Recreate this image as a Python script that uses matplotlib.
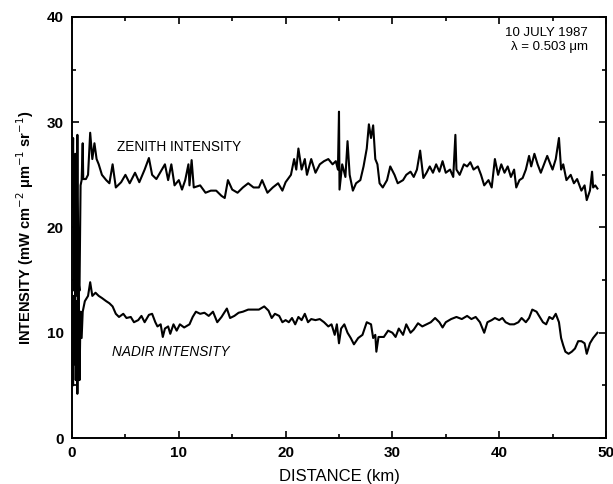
import matplotlib
matplotlib.use("Agg")
import matplotlib.pyplot as plt
from matplotlib.ticker import MultipleLocator

plt.rcParams['font.family'] = ['Liberation Sans', 'DejaVu Sans']

# Zenith intensity trace (km, mW cm-2 um-1 sr-1)
zen_km = [0.0, 0.1, 0.2, 0.3, 0.4, 0.5, 0.6, 0.7, 0.8, 0.9, 1.0, 1.05, 1.3, 1.5, 1.7,
          1.9, 2.1, 2.3, 2.5, 2.8, 3.2, 3.5, 3.8, 4.1, 4.6, 5.0, 5.4, 5.9, 6.3, 6.8,
          7.2, 7.5, 7.9, 8.3, 8.7, 9.0, 9.3, 9.6, 10.0, 10.3, 10.6, 10.9, 11.0, 11.2,
          11.4, 12.0, 12.5, 13.0, 13.5, 14.0, 14.3, 14.6, 15.0, 15.5, 16.0, 16.5, 17.0,
          17.5, 17.8, 18.3, 18.8, 19.3, 19.7, 20.0, 20.5, 20.8, 21.0, 21.2, 21.5, 21.8,
          22.0, 22.4, 22.8, 23.2, 23.6, 24.0, 24.4, 24.7, 24.9, 25.0, 25.05, 25.3, 25.6,
          25.8, 26.0, 26.3, 26.6, 27.0, 27.3, 27.6, 27.8, 28.0, 28.2, 28.4, 28.6, 28.8,
          29.1, 29.5, 29.8, 30.2, 30.5, 31.0, 31.3, 31.7, 32.0, 32.3, 32.6, 32.9, 33.2,
          33.5, 33.8, 34.1, 34.4, 34.7, 35.0, 35.4, 35.7, 35.9, 36.0, 36.3, 36.7, 37.0,
          37.3, 37.6, 38.0, 38.3, 38.6, 39.0, 39.3, 39.6, 39.9, 40.2, 40.5, 40.8, 41.1,
          41.4, 41.6, 41.9, 42.2, 42.5, 42.8, 43.0, 43.3, 43.6, 43.9, 44.2, 44.5, 44.8,
          45.0, 45.3, 45.6, 45.8, 46.0, 46.3, 46.7, 47.0, 47.3, 47.7, 48.0, 48.2, 48.5,
          48.7, 48.8, 49.0, 49.2]
zen_val = [22.0, 28.5, 14.0, 27.0, 13.5, 28.8, 15.0, 14.0, 24.0, 24.5, 28.0, 24.6, 24.6,
           25.0, 29.0, 26.5, 28.0, 26.5, 26.0, 25.0, 24.5, 24.2, 26.0, 23.8, 24.3, 25.0,
           24.2, 25.2, 24.3, 25.5, 26.6, 25.0, 24.6, 25.3, 26.0, 24.5, 26.0, 24.0, 24.5,
           23.6, 24.5, 26.0, 24.0, 26.4, 23.8, 24.0, 23.3, 23.5, 23.5, 23.0, 22.8, 24.5,
           23.6, 23.3, 23.8, 24.2, 23.8, 23.8, 24.5, 23.3, 23.8, 24.2, 23.5, 24.3, 25.0,
           26.5, 25.5, 27.5, 25.5, 26.5, 25.0, 26.5, 25.2, 26.0, 26.3, 26.5, 26.0, 26.3,
           25.5, 31.0, 23.6, 26.0, 24.8, 28.2, 25.0, 23.5, 24.2, 24.5, 25.8, 27.5, 29.8,
           28.5, 29.7, 26.5, 26.0, 24.2, 23.8, 24.5, 25.8, 25.0, 24.2, 24.5, 25.0, 25.3,
           24.8, 25.5, 27.3, 24.7, 25.2, 25.8, 25.2, 26.0, 25.3, 26.3, 25.2, 25.5, 24.8,
           28.8, 25.5, 25.0, 26.0, 25.8, 26.2, 25.5, 25.8, 25.0, 24.0, 24.5, 23.8, 26.5,
           25.0, 26.0, 25.2, 25.8, 24.8, 25.5, 23.8, 24.5, 24.7, 25.5, 26.8, 25.8, 27.0,
           26.0, 25.2, 26.0, 26.8, 26.0, 25.5, 26.5, 28.5, 25.5, 26.0, 24.5, 25.0, 24.2,
           24.6, 23.5, 24.0, 22.6, 23.5, 25.3, 23.8, 24.0, 23.7]

# Nadir intensity trace
nad_km = [0.0, 0.1, 0.15, 0.2, 0.3, 0.35, 0.45, 0.5, 0.6, 0.7, 0.8, 0.9, 1.0, 1.2, 1.5,
          1.7, 1.9, 2.2, 2.5, 2.8, 3.2, 3.5, 3.8, 4.1, 4.4, 4.8, 5.1, 5.5, 5.8, 6.2, 6.5,
          6.8, 7.2, 7.5, 7.8, 8.0, 8.3, 8.5, 8.7, 9.0, 9.2, 9.5, 9.8, 10.1, 10.5, 11.0,
          11.3, 11.6, 12.0, 12.4, 12.8, 13.2, 13.6, 14.0, 14.5, 14.8, 15.2, 15.6, 16.0,
          16.5, 17.0, 17.5, 18.0, 18.4, 18.7, 19.0, 19.4, 19.7, 20.0, 20.3, 20.6, 20.9,
          21.2, 21.5, 21.8, 22.1, 22.4, 22.8, 23.2, 23.6, 24.0, 24.3, 24.6, 24.8, 25.0,
          25.2, 25.5, 25.8, 26.1, 26.4, 26.8, 27.2, 27.6, 28.0, 28.2, 28.4, 28.5, 28.7,
          29.2, 29.6, 30.0, 30.3, 30.6, 31.0, 31.3, 31.7, 32.0, 32.4, 32.8, 33.2, 33.6,
          34.0, 34.4, 34.7, 35.0, 35.5, 36.0, 36.5, 37.0, 37.4, 37.8, 38.2, 38.6, 38.9,
          39.3, 39.6, 40.0, 40.3, 40.6, 41.0, 41.4, 41.8, 42.1, 42.5, 42.8, 43.1, 43.5,
          43.8, 44.1, 44.4, 44.7, 45.0, 45.3, 45.6, 45.8, 46.0, 46.2, 46.5, 46.8, 47.1,
          47.4, 47.7, 48.0, 48.2, 48.5, 48.8, 49.2]
nad_val = [8.0, 5.0, 13.5, 7.0, 15.0, 5.5, 13.0, 4.2, 15.5, 5.5, 12.0, 9.5, 12.0, 13.0,
           13.5, 14.8, 13.5, 13.8, 13.5, 13.3, 13.0, 12.8, 12.5, 11.8, 11.5, 11.8, 11.4,
           11.5, 11.0, 11.2, 11.6, 11.0, 11.7, 11.8, 11.0, 10.6, 10.8, 9.6, 10.4, 10.6,
           9.9, 10.8, 10.2, 10.8, 10.5, 10.8, 11.5, 12.0, 11.8, 11.9, 11.6, 12.0, 11.0,
           11.5, 12.3, 11.4, 11.6, 11.9, 12.0, 12.2, 12.2, 12.2, 12.5, 12.1, 11.4, 11.8,
           11.6, 11.0, 11.2, 11.0, 11.4, 10.8, 11.5, 11.2, 11.8, 11.0, 11.3, 11.2, 11.3,
           11.0, 10.6, 10.8, 9.8, 10.8, 9.0, 10.4, 10.8, 10.0, 9.5, 8.9, 9.5, 9.8, 11.0,
           10.8, 9.5, 9.8, 8.2, 9.6, 9.6, 10.2, 10.0, 9.6, 10.4, 9.8, 10.8, 10.0, 10.3,
           10.9, 10.6, 10.8, 11.0, 11.4, 11.0, 10.5, 11.0, 11.3, 11.5, 11.3, 11.6, 11.3,
           11.5, 11.0, 10.0, 11.0, 11.2, 11.4, 11.2, 11.4, 11.0, 10.8, 10.8, 11.0, 11.4,
           11.0, 11.4, 12.2, 12.0, 11.5, 11.0, 10.8, 11.5, 11.3, 11.8, 11.0, 9.5, 8.8,
           8.2, 8.0, 8.2, 8.5, 9.2, 9.2, 9.0, 8.0, 9.0, 9.5, 10.0]

fig = plt.figure(figsize=(6.13, 4.84), dpi=100)
ax = fig.add_axes([0.1175, 0.095, 0.871, 0.870])

ax.plot(zen_km, zen_val, color='black', lw=1.5)
ax.plot(nad_km, nad_val, color='black', lw=1.5)

ax.set_xlim(0, 50)
ax.set_ylim(0, 40)
ax.xaxis.set_major_locator(MultipleLocator(10))
ax.xaxis.set_minor_locator(MultipleLocator(5))
ax.yaxis.set_major_locator(MultipleLocator(10))
ax.yaxis.set_minor_locator(MultipleLocator(5))
ax.tick_params(which='both', direction='in', top=True, right=True, width=1.2)
ax.tick_params(which='major', length=5, labelsize=11, pad=6)
ax.tick_params(which='minor', length=3)
for lab in ax.get_xticklabels() + ax.get_yticklabels():
    lab.set_fontweight('bold')
for s in ax.spines.values():
    s.set_linewidth(1.4)

ax.set_xlabel('DISTANCE (km)', fontsize=12, labelpad=6)
ax.set_ylabel('INTENSITY (mW cm$^{-2}$ \u03bcm$^{-1}$ sr$^{-1}$)', fontsize=10.5,
              fontweight='bold', labelpad=8)

ax.text(4.2, 27.6, 'ZENITH INTENSITY', fontsize=9.8, va='center', ha='left')
ax.text(3.7, 8.2, 'NADIR INTENSITY', fontsize=9.8, va='center', ha='left', style='italic')
ax.text(48.3, 38.5, '10 JULY 1987', fontsize=9.5, ha='right', va='center')
ax.text(48.3, 37.1, '\u03bb = 0.503 \u03bcm', fontsize=9.5, ha='right', va='center')

fig.savefig('out.png', dpi=100)
